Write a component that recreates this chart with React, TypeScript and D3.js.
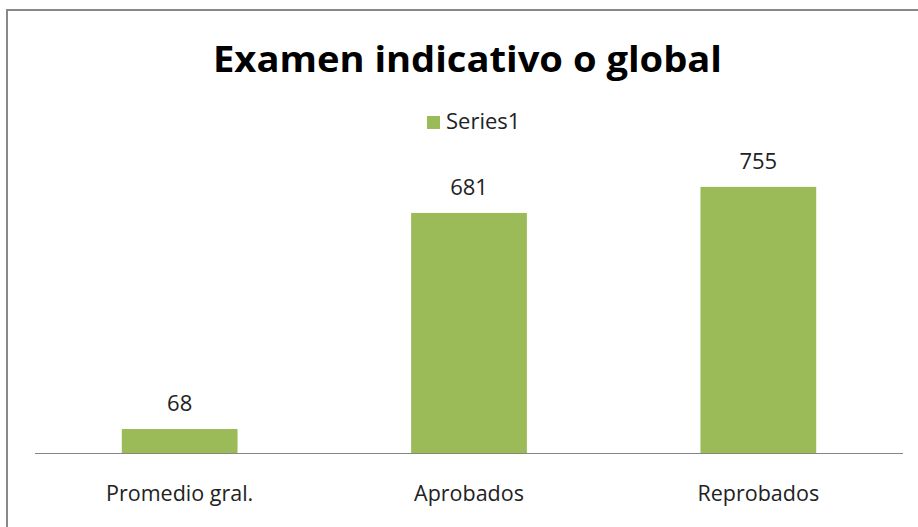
import React from "react";
import * as d3 from "d3";

const categories = ["Promedio gral.", "Aprobados", "Reprobados"];
const values = [68, 681, 755];
const seriesName = "Series1";
const title = "Examen indicativo o global";

const W = 918;
const H = 527;
const FONT = "'Open Sans', 'DejaVu Sans', sans-serif";
const GREEN = "#9BBB59";

export default function App() {
  const x = d3.scaleBand<string>().domain(categories).range([35, 903]).paddingInner(0.6).paddingOuter(0.3);
  const y = d3.scaleLinear().domain([0, 800]).range([453, 171]);

  return (
    <svg width={W} height={H} style={{ position: "absolute", left: 0, top: 0, background: "#fff" }}>
      <rect x={0} y={0} width={W} height={H} fill="#fff" />
      <path d={`M7,${H} V10 H${W}`} fill="none" stroke="#888" strokeWidth={2} />
      <text x={467.5} y={72} textAnchor="middle" fontFamily={FONT} fontWeight="bold" fontSize={36} textLength={509} lengthAdjust="spacingAndGlyphs" fill="#000">
        {title}
      </text>
      <rect x={427} y={116} width={13} height={13} fill={GREEN} />
      <text x={446} y={129} fontFamily={FONT} fontSize={22} fill="#222">{seriesName}</text>
      {categories.map((c, i) => (
        <g key={c}>
          <rect x={x(c)} y={y(values[i])} width={x.bandwidth()} height={y(0) - y(values[i])} fill={GREEN} />
          <text x={(x(c) as number) + x.bandwidth() / 2} y={y(values[i]) - 18} textAnchor="middle" fontFamily={FONT} fontSize={22} fill="#222">
            {values[i]}
          </text>
          <text x={(x(c) as number) + x.bandwidth() / 2} y={501} textAnchor="middle" fontFamily={FONT} fontSize={21.5} fill="#222">
            {c}
          </text>
        </g>
      ))}
      <line x1={35} x2={903} y1={453.5} y2={453.5} stroke="#868686" strokeWidth={1} />
    </svg>
  );
}
